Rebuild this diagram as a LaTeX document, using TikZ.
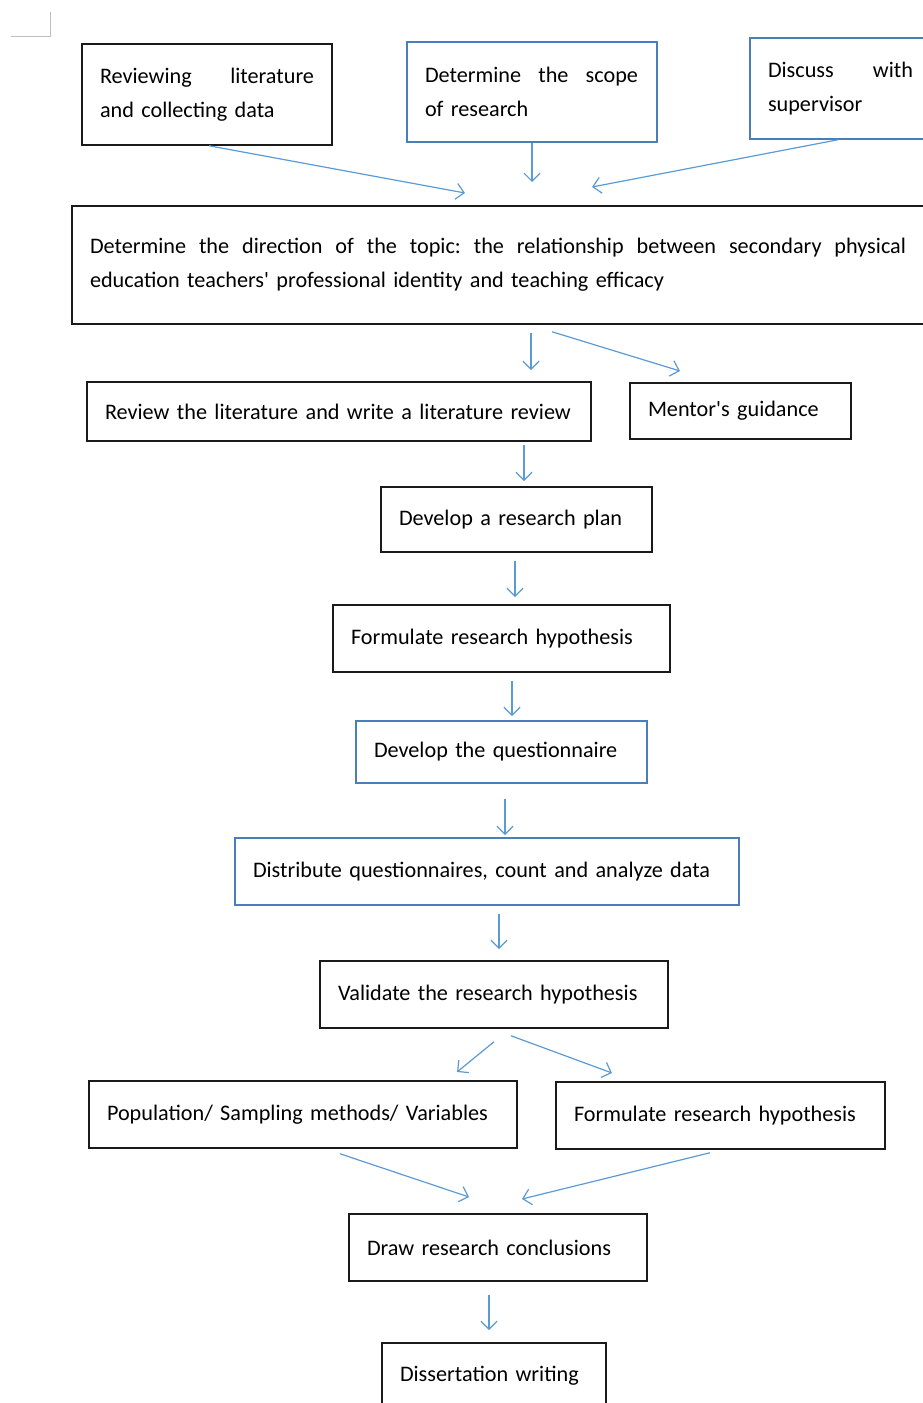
\documentclass[tikz,border=0pt]{standalone}
\usepackage{fontspec}
\setmainfont{Carlito}[Ligatures=TeXOff]
\usetikzlibrary{arrows.meta}
\definecolor{arrowblue}{HTML}{5B9BD5}
\definecolor{boxblue}{HTML}{4A7EBB}
\definecolor{boxblack}{HTML}{1A1A1A}
\definecolor{cornergray}{HTML}{BFBFBF}
\begin{document}
\begin{tikzpicture}[x=1pt,y=-1pt,
  box/.style={draw=boxblack, line width=1.5pt, inner xsep=18pt, inner ysep=0pt, align=left,
    font=\fontsize{22.2}{34}\selectfont, anchor=center},
  bluebox/.style={box, draw=boxblue},
  conn/.style={draw=arrowblue, line width=1.2pt, -{Straight Barb[length=8pt,width=16pt,line width=1.2pt]}}
]
\useasboundingbox (0,0) rectangle (922,1403);
% corner mark
\draw[cornergray, line width=1pt] (11,36) -- (50,36) -- (50,12);

\node[box, minimum width=250pt, minimum height=101pt, text width=214pt] (rev) at (207,94.5)
  {\makebox[214pt][s]{Reviewing\hfill literature}\\and collecting data};
\node[bluebox, minimum width=250pt, minimum height=100pt, text width=214pt] (scope) at (532,92)
  {\makebox[213pt][s]{Determine\hfill the\hfill scope}\\of research};
\node[bluebox, minimum width=250pt, minimum height=101pt, text width=214pt] (disc) at (875,88.5)
  {\makebox[145pt][s]{Discuss\hfill with}\\supervisor};
\node[box, minimum width=854pt, minimum height=118pt, text width=818pt] (topic) at (499,265)
  {\makebox[816pt][s]{Determine\hfill the\hfill direction\hfill of\hfill the\hfill topic:\hfill the\hfill relationship\hfill between\hfill secondary\hfill physical}\\education teachers' professional identity and teaching efficacy};
\node[box, minimum width=504pt, minimum height=59pt, text width=468pt] (litrev) at (339,411.5)
  {Review the literature and write a literature review};
\node[box, minimum width=221pt, minimum height=56pt, text width=185pt] (mentor) at (740.5,411)
  {Mentor's guidance};
\node[box, minimum width=271pt, minimum height=65pt, text width=235pt] (plan) at (516.5,519.5)
  {Develop a research plan};
\node[box, minimum width=337pt, minimum height=67pt, text width=301pt] (hyp1) at (501.5,638.5)
  {Formulate research hypothesis};
\node[bluebox, minimum width=291pt, minimum height=62pt, text width=255pt] (quest) at (501.5,752)
  {Develop the questionnaire};
\node[bluebox, minimum width=504pt, minimum height=67pt, text width=468pt] (distr) at (487,871.5)
  {Distribute questionnaires, count and analyze data};
\node[box, minimum width=348pt, minimum height=67pt, text width=312pt] (valid) at (494,994.5)
  {Validate the research hypothesis};
\node[box, minimum width=428pt, minimum height=67pt, text width=392pt] (pop) at (303,1114.5)
  {Population/ Sampling methods/ Variables};
\node[box, minimum width=329pt, minimum height=67pt, text width=293pt] (hyp2) at (720.5,1115.5)
  {Formulate research hypothesis};
\node[box, minimum width=298pt, minimum height=67pt, text width=262pt] (concl) at (498,1247.5)
  {Draw research conclusions};
\node[box, minimum width=224pt, minimum height=66pt, text width=188pt] (diss) at (494,1376)
  {Dissertation writing};

% arrow tips
\coordinate (t1) at (465,193);
\coordinate (t2) at (532,182);
\coordinate (t3) at (592,187);
\coordinate (t4) at (531,370);
\coordinate (t5) at (680,371);
\coordinate (t6) at (524,481);
\coordinate (t7) at (515,597);
\coordinate (t8) at (512,716);
\coordinate (t9) at (505,835);
\coordinate (t10) at (499,949);
\coordinate (t11) at (457,1072);
\coordinate (t12) at (612,1073);
\coordinate (t13) at (469,1197);
\coordinate (t14) at (522,1199);
\coordinate (t15) at (489,1330);

\draw[conn] ([xshift=2pt]rev.south) -- (t1);
\draw[conn] (scope.south) -- (t2);
\draw[conn] ([xshift=-37pt]disc.south) -- (t3);
\draw[conn] ([xshift=32pt,yshift=-8pt]topic.south) -- (t4);
\draw[conn] ([xshift=53pt,yshift=-7pt]topic.south) -- (t5);
\draw[conn] ([xshift=185pt,yshift=-3pt]litrev.south) -- (t6);
\draw[conn] ([xshift=-1.5pt,yshift=-8pt]plan.south) -- (t7);
\draw[conn] ([xshift=10.5pt,yshift=-8pt]hyp1.south) -- (t8);
\draw[conn] ([xshift=3.5pt,yshift=-15pt]quest.south) -- (t9);
\draw[conn] ([xshift=12pt,yshift=-8pt]distr.south) -- (t10);
\draw[conn] ([xshift=0pt,yshift=-13pt]valid.south) -- (t11);
\draw[conn] ([xshift=17pt,yshift=-7pt]valid.south) -- (t12);
\draw[conn] ([xshift=37pt,yshift=-5pt]pop.south) -- (t13);
\draw[conn] ([xshift=-10.5pt,yshift=-3pt]hyp2.south) -- (t14);
\draw[conn] ([xshift=-9pt,yshift=-13pt]concl.south) -- (t15);
\end{tikzpicture}
\end{document}
